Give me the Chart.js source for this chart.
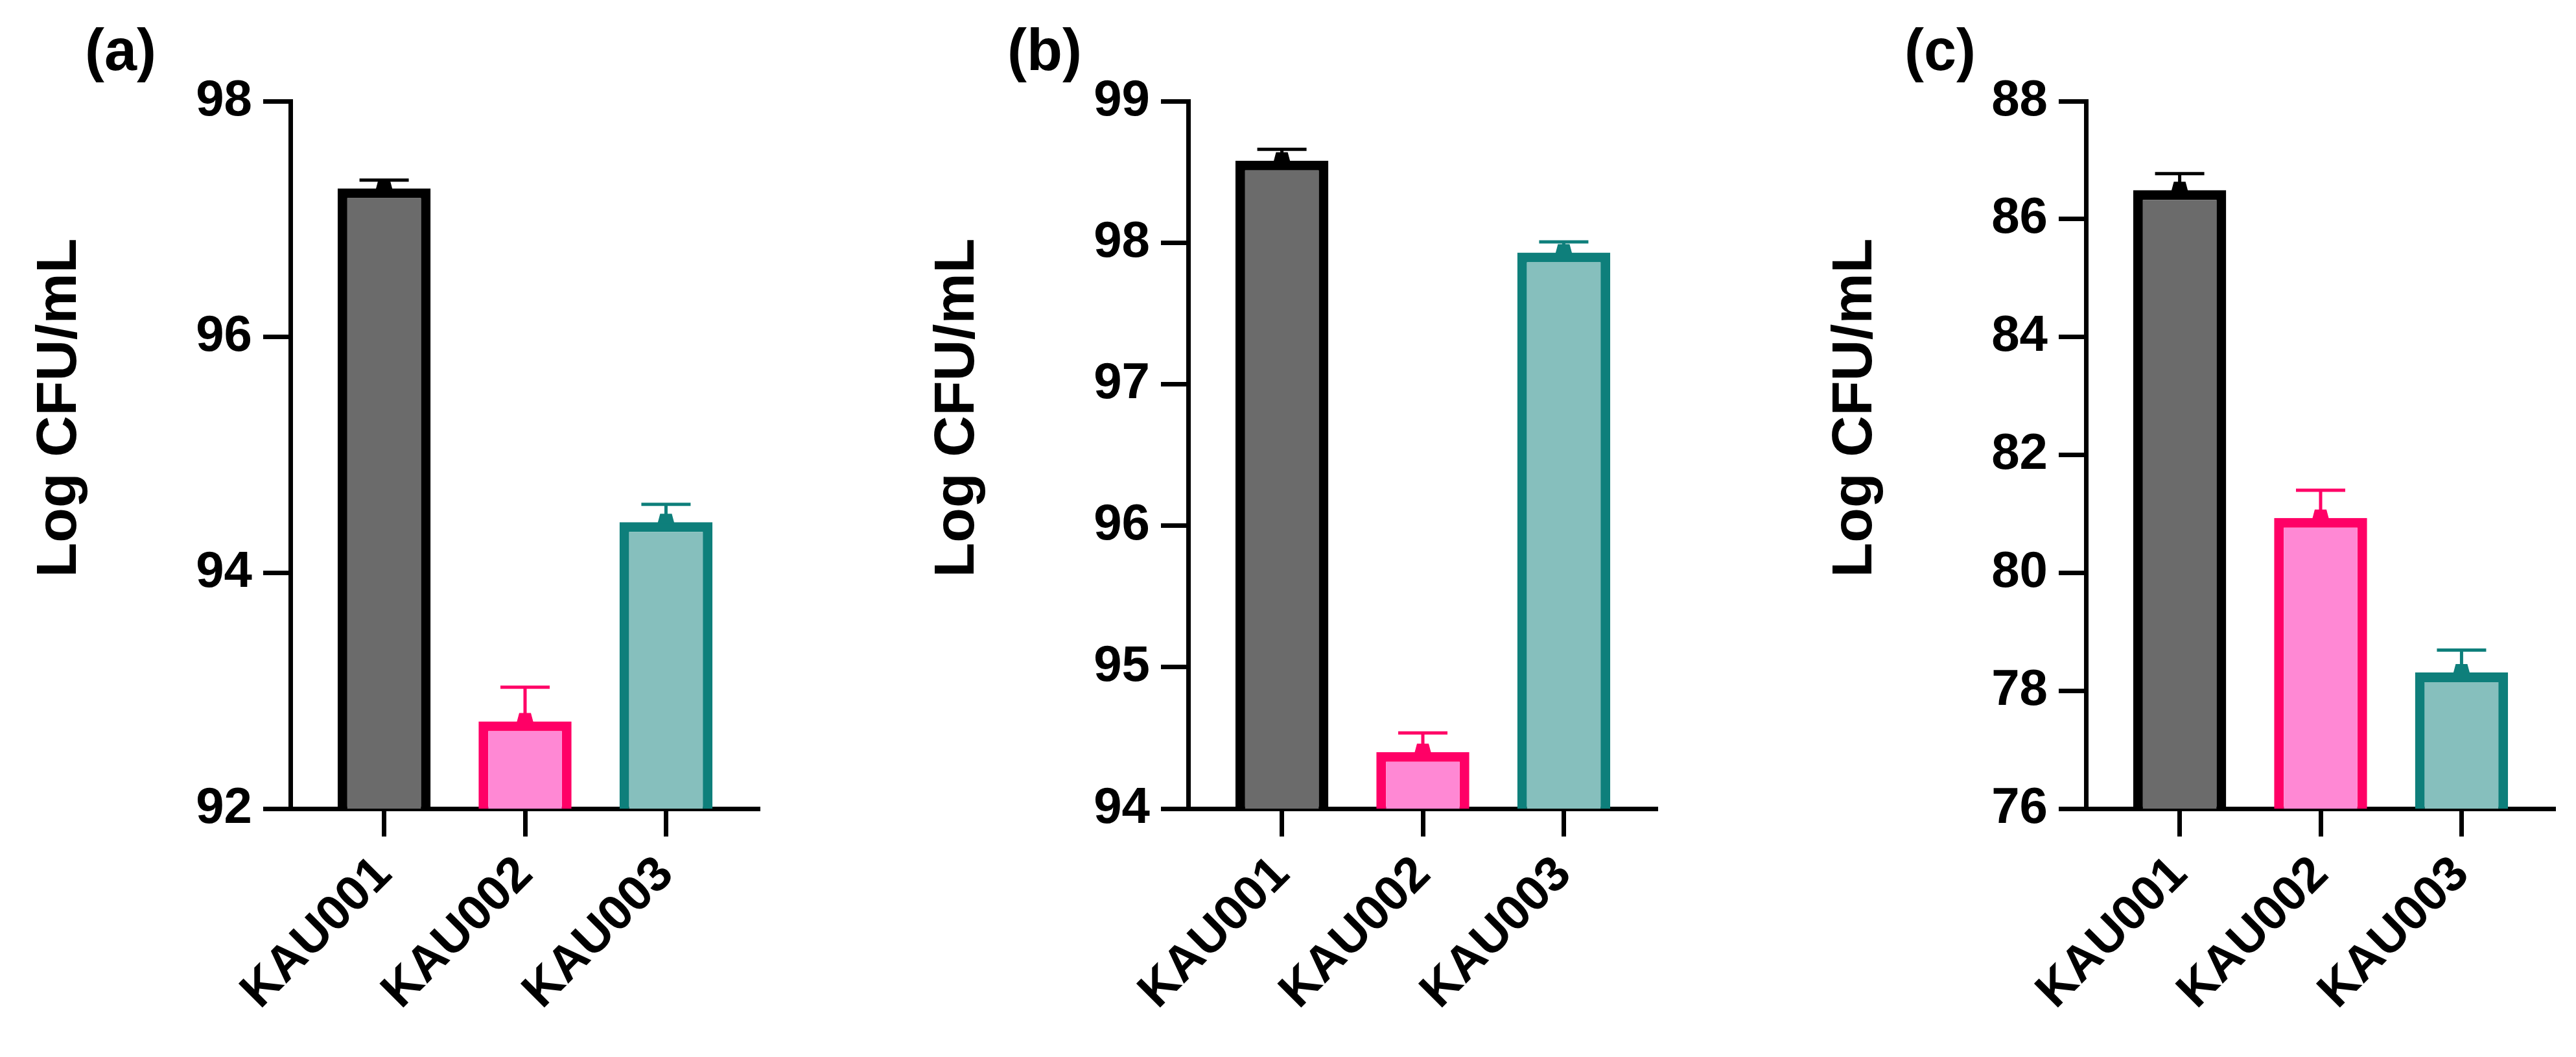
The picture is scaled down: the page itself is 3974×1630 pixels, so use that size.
<!DOCTYPE html>
<html><head><meta charset="utf-8">
<script src="https://cdn.jsdelivr.net/npm/chart.js@4.4.1/dist/chart.umd.min.js"></script>
<style>
html,body{margin:0;padding:0;background:#fff;width:3974px;height:1630px;overflow:hidden}
canvas{position:absolute;top:0}
</style></head><body>
<canvas id="ca" width="1200" height="1630" style="left:0px"></canvas>
<canvas id="cb" width="1200" height="1630" style="left:1385px"></canvas>
<canvas id="cc" width="1200" height="1630" style="left:2770px"></canvas>
<script>
// ---- data ----
const categories = ['KAU001', 'KAU002', 'KAU003'];
const positions = [1, 2, 3];
const meansA = [97.26, 92.74, 94.43];
const errA = [0.07, 0.29, 0.15];
const meansB = [98.58, 94.40, 97.93];
const errB = [0.08, 0.135, 0.075];
const meansC = [86.49, 80.93, 78.31];
const errC = [0.28, 0.47, 0.38];
const yTicksA = [92, 94, 96, 98];
const yTicksB = [94, 95, 96, 97, 98, 99];
const yTicksC = [76, 78, 80, 82, 84, 86, 88];
const panelLabels = ['(a)', '(b)', '(c)'];
const yTitle = 'Log CFU/mL';
const fillColors = ['#6b6b6b', '#ff88d4', '#86bfbd'];
const edgeColors = ['#000000', '#ff0066', '#0e7f7b'];

const FONT = "'Liberation Sans', Arial, Helvetica, sans-serif";
Chart.defaults.font.family = FONT;
Chart.defaults.font.weight = 'bold';
Chart.defaults.color = '#000';

const errorBarPlugin = {
  id: 'errorBars',
  afterDatasetsDraw(chart, args, opts) {
    const ctx = chart.ctx;
    const meta = chart.getDatasetMeta(0);
    const ys = chart.scales.y;
    meta.data.forEach((bar, i) => {
      const v = chart.data.datasets[0].data[i].y;
      const top = ys.getPixelForValue(v);
      const cap = ys.getPixelForValue(v + opts.errors[i]);
      const col = edgeColors[i];
      ctx.save();
      ctx.strokeStyle = col;
      ctx.fillStyle = col;
      ctx.lineWidth = 5;
      ctx.beginPath();
      ctx.moveTo(bar.x, top);
      ctx.lineTo(bar.x, cap);
      ctx.moveTo(bar.x - 38, cap);
      ctx.lineTo(bar.x + 38, cap);
      ctx.stroke();
      // small mean marker on top of bar
      ctx.beginPath();
      ctx.moveTo(bar.x - 13, top + 2);
      ctx.lineTo(bar.x - 9, top - 13);
      ctx.lineTo(bar.x + 9, top - 13);
      ctx.lineTo(bar.x + 13, top + 2);
      ctx.closePath();
      ctx.fill();
      ctx.restore();
    });
  }
};

const textPlugin = {
  id: 'panelText',
  afterDraw(chart, args, opts) {
    const ctx = chart.ctx;
    ctx.save();
    ctx.fillStyle = '#000';
    ctx.font = 'bold 90px ' + FONT;
    ctx.textAlign = 'left';
    ctx.textBaseline = 'alphabetic';
    ctx.fillText(opts.label, opts.labelX, 108);
    ctx.translate(117, 629);
    ctx.rotate(-Math.PI / 2);
    ctx.font = 'bold 88px ' + FONT;
    ctx.textAlign = 'center';
    ctx.fillText(yTitle, 0, 0);
    ctx.restore();
  }
};

function makeChart(id, means, errs, yTicks, label, labelX) {
  const data = positions.map((p, i) => ({ x: p, y: means[i] }));
  return new Chart(document.getElementById(id), {
    type: 'bar',
    data: {
      datasets: [{
        data: data,
        backgroundColor: fillColors,
        borderColor: edgeColors,
        borderWidth: 15,
        borderSkipped: 'start',
        barPercentage: 0.66,
        categoryPercentage: 1.0
      }]
    },
    options: {
      responsive: false,
      devicePixelRatio: 1,
      animation: false,
      events: [],
      layout: { padding: { top: 156, left: 0, right: 28, bottom: 0 } },
      plugins: {
        legend: { display: false },
        tooltip: { enabled: false },
        errorBars: { errors: errs },
        panelText: { label: label, labelX: labelX }
      },
      scales: {
        x: {
          type: 'linear',
          offset: false,
          min: 0.335,
          max: 3.665,
          afterBuildTicks: s => { s.ticks = positions.map(v => ({ value: v })); },
          afterFit: s => { s.height = 383; },
          grid: { offset: false, drawOnChartArea: false, drawTicks: true, tickLength: 43, tickWidth: 7, tickColor: '#000' },
          border: { display: true, width: 7, color: '#000' },
          ticks: {
            callback: v => categories[positions.indexOf(v)],
            minRotation: 45, maxRotation: 45,
            padding: 14,
            font: { size: 76, weight: 'bold', family: FONT },
            color: '#000'
          }
        },
        y: {
          min: yTicks[0],
          max: yTicks[yTicks.length - 1],
          afterBuildTicks: s => { s.ticks = yTicks.map(v => ({ value: v })); },
          afterFit: s => { s.width = 448; },
          grid: { drawOnChartArea: false, drawTicks: true, tickLength: 42, tickWidth: 7, tickColor: '#000' },
          border: { display: true, width: 7, color: '#000' },
          ticks: {
            padding: 17,
            font: { size: 78, weight: 'bold', family: FONT },
            color: '#000'
          }
        }
      }
    },
    plugins: [errorBarPlugin, textPlugin]
  });
}

makeChart('ca', meansA, errA, yTicksA, panelLabels[0], 131);
makeChart('cb', meansB, errB, yTicksB, panelLabels[1], 169);
makeChart('cc', meansC, errC, yTicksC, panelLabels[2], 168);
</script>
</body></html>
